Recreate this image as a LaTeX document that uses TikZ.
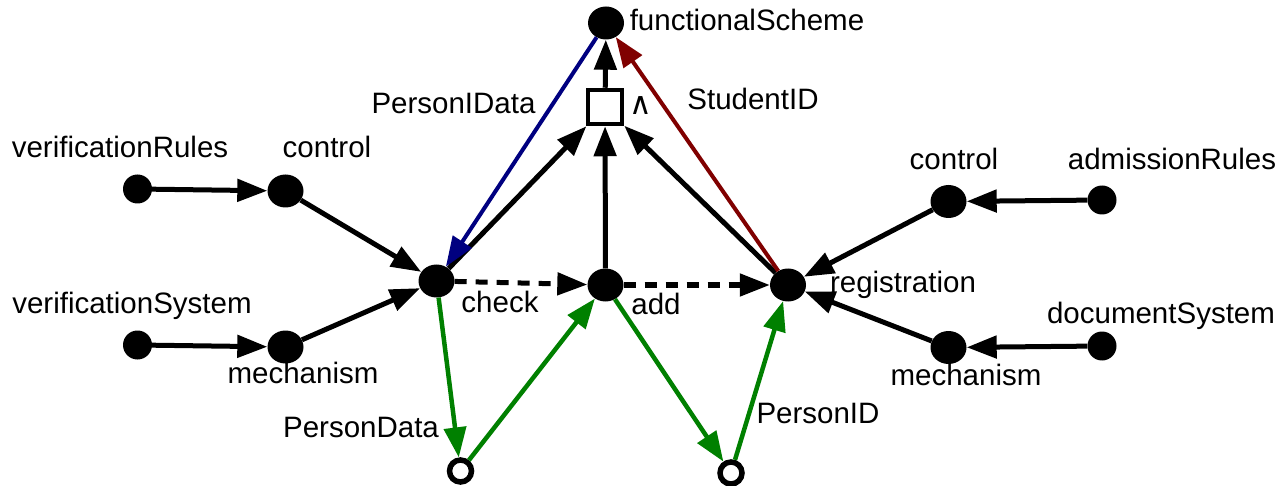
\documentclass[tikz,border=0pt]{standalone}
\usepackage{fontspec}
\setmainfont{Liberation Sans}
\newfontfamily\symfont{DejaVu Sans}
\usetikzlibrary{shapes.geometric,arrows.meta}
\begin{document}
\begin{tikzpicture}[x=1pt,y=-1pt,
  dotbig/.style={ellipse,fill=black,inner sep=0pt,minimum width=36pt,minimum height=33pt},
  dotsmall/.style={circle,fill=black,inner sep=0pt,minimum size=29pt},
  opencirc/.style={circle,draw=black,line width=5.5pt,fill=white,inner sep=0pt,minimum size=22pt},
  gatebox/.style={rectangle,draw=black,line width=4.5pt,fill=white,inner sep=0pt,minimum size=34pt},
  lbl/.style={anchor=base,inner sep=0pt,font=\fontsize{29.5}{32}\selectfont},
  tip/.style={-{Triangle[length=30pt,width=22pt]}},
  arr/.style={tip,line width=5pt,draw=black},
  darr/.style={tip,line width=5pt,draw=black,dash pattern=on 12pt off 9pt},
  garr/.style={tip,line width=4.5pt,draw={rgb,255:red,0;green,128;blue,0},fill={rgb,255:red,0;green,128;blue,0}},
  barr/.style={tip,line width=4pt,draw={rgb,255:red,0;green,0;blue,128},fill={rgb,255:red,0;green,0;blue,128}},
  rarr/.style={tip,line width=4pt,draw={rgb,255:red,128;green,0;blue,0},fill={rgb,255:red,128;green,0;blue,0}}
]
\useasboundingbox (0,0) rectangle (1279,486);

% nodes
\node[dotbig] (fs) at (606,23) {};
\node[gatebox] (gate) at (605,107) {};
\node[dotbig] (check) at (436.5,281) {};
\node[dotbig] (add) at (605.5,285) {};
\node[dotbig] (reg) at (788,285) {};
\node[dotsmall] (vr) at (137.5,189) {};
\node[dotbig] (ctrlL) at (285.5,191) {};
\node[dotsmall] (vs) at (137.5,345) {};
\node[dotbig] (mechL) at (285.5,347) {};
\node[dotbig] (ctrlR) at (948.5,201.5) {};
\node[dotsmall] (ar) at (1102,200) {};
\node[dotbig] (mechR) at (948.5,347.5) {};
\node[dotsmall] (ds) at (1102,346) {};
\node[opencirc] (pd) at (460.5,471) {};
\node[opencirc] (pid) at (731,473) {};

% labels
\node[lbl] (l1) at (747,31) {functionalScheme};
\node[anchor=center,inner sep=0pt,font=\symfont\fontsize{31}{32}\selectfont] (l2) at (641,106) {∧};
\node[lbl] (l3) at (453.5,114) {PersonIData};
\node[lbl] (l4) at (753,110) {StudentID};
\node[lbl] (l5) at (120,157.5) {verificationRules};
\node[lbl] (l6) at (327,158) {control};
\node[lbl] (l7) at (132,313.5) {verificationSystem};
\node[lbl] (l8) at (303,383) {mechanism};
\node[lbl] (l9) at (954,170) {control};
\node[lbl] (l10) at (1172,170) {admissionRules};
\node[lbl] (l11) at (903,292) {registration};
\node[lbl] (l12) at (1161,323) {documentSystem};
\node[lbl] (l13) at (966,385) {mechanism};
\node[lbl] (l14) at (500,312) {check};
\node[lbl] (l15) at (656,314) {add};
\node[lbl] (l16) at (361,437) {PersonData};
\node[lbl] (l17) at (818,423) {PersonID};

% connectors
\draw[arr] (vr) -- (ctrlL);
\draw[arr] (vs) -- (mechL);
\draw[arr] (ctrlL) -- (check);
\draw[arr] (mechL) -- (check);
\draw[arr] (ar) -- (ctrlR);
\draw[arr] (ds) -- (mechR);
\draw[arr] (ctrlR) -- (reg);
\draw[arr] (mechR) -- (reg);
\draw[arr] (check) -- (gate);
\draw[arr] (add) -- (gate);
\draw[arr] (reg) -- (gate);
\draw[arr] (gate) -- (fs);
\draw[darr] (check) -- (add);
\draw[darr] (add) -- (reg);
\draw[barr] (fs) -- (check);
\draw[rarr] (reg) -- (fs);
\draw[garr] (check) -- (pd);
\draw[garr] (pd) -- (add);
\draw[garr] (add) -- (pid);
\draw[garr] (pid) -- (reg);
\end{tikzpicture}
\end{document}
